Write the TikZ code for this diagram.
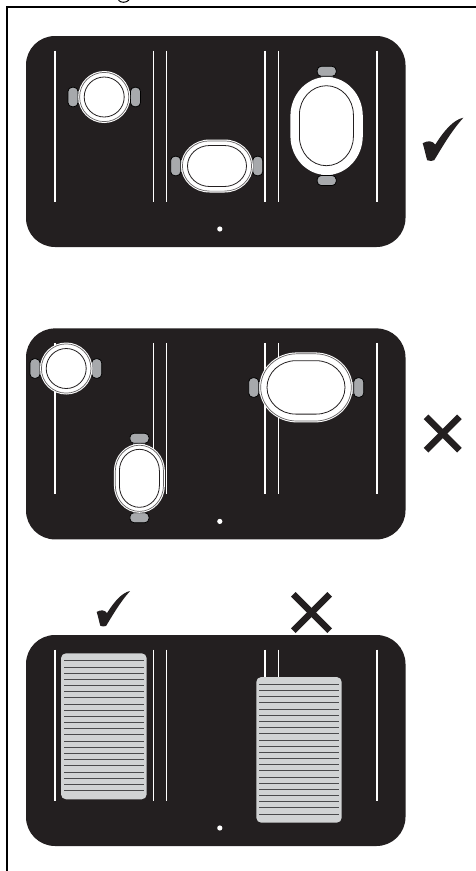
\documentclass[tikz,border=0pt]{standalone}
\definecolor{ink}{HTML}{231F20}
\definecolor{chairgray}{HTML}{A7A9AC}
\definecolor{matgray}{HTML}{D1D3D4}
\definecolor{slat}{HTML}{4A4A4C}
\tikzset{
  panelbox/.style={fill=ink,rounded corners=29pt},
  lane/.style={draw=white,line width=1.2pt},
  chairbox/.style={fill=chairgray,draw=black,line width=0.8pt,rounded corners=4pt},
  chairneck/.style={fill=chairgray},
  tablering/.style={draw=ink!70,line width=0.7pt,fill=white},
  tableedge/.style={draw=ink,line width=0.8pt,fill=white},
  crossbar/.style={draw=ink,line width=6.5pt},
  matbox/.style={fill=matgray,rounded corners=5pt},
  slatline/.style={draw=slat,line width=0.9pt}
}
% panel with its lanes and dot: #1 = top y
\newcommand{\panelat}[1]{%
  \fill[panelbox] (26,#1) rectangle (405.5,{#1+211});
  \foreach \lx in {55,153.7,166.7,265,278.2,377}
    \draw[lane] (\lx,{#1+14.5}) -- (\lx,{#1+166});
  \fill[white] (219.8,{#1+193}) circle (2.6);
}
% chairs left and right of a table: cy, left edge, right edge
\newcommand{\sidechairs}[3]{%
  \fill[chairneck] ({#2+8},{#1-6}) rectangle ({#3-8},{#1+6});
  \draw[chairbox] (#2,{#1-9.7}) rectangle ({#2+10},{#1+9.7});
  \draw[chairbox] ({#3-10},{#1-9.7}) rectangle (#3,{#1+9.7});
}
% chairs above and below a table: cx, top edge, bottom edge
\newcommand{\tipchairs}[3]{%
  \fill[chairneck] ({#1-6},{#2+8}) rectangle ({#1+6},{#3-8});
  \draw[chairbox] ({#1-9.5},#2) rectangle ({#1+9.5},{#2+10});
  \draw[chairbox] ({#1-9.5},{#3-10}) rectangle ({#1+9.5},#3);
}
% oval outline with elliptical ends: draw options, cx, cy, hw, hh
\newcommand{\ovalshape}[5]{%
  \pgfmathsetmacro{\ovhw}{#4}%
  \pgfmathsetmacro{\ovhh}{#5}%
  \pgfmathsetmacro{\ovrx}{min(\ovhw,1.08*min(\ovhw,\ovhh))}%
  \pgfmathsetmacro{\ovry}{min(\ovhh,1.08*min(\ovhw,\ovhh))}%
  \path[#1] ({#2-\ovhw},{#3-\ovhh+\ovry})
    arc[start angle=180,end angle=90,x radius=\ovrx pt,y radius=\ovry pt]
    -- ({#2+\ovhw-\ovrx},{#3-\ovhh})
    arc[start angle=90,end angle=0,x radius=\ovrx pt,y radius=\ovry pt]
    -- ({#2+\ovhw},{#3+\ovhh-\ovry})
    arc[start angle=0,end angle=-90,x radius=\ovrx pt,y radius=\ovry pt]
    -- ({#2-\ovhw+\ovrx},{#3+\ovhh})
    arc[start angle=-90,end angle=-180,x radius=\ovrx pt,y radius=\ovry pt]
    -- cycle;
}
% ringed table: cx, cy, outer hw, outer hh, inner hw, inner hh
\newcommand{\ringtable}[6]{%
  \ovalshape{fill=white}{#1}{#2}{#3}{#4}%
  \ovalshape{tablering}{#1}{#2}{#3-1.4}{#4-1.4}%
  \ovalshape{tableedge}{#1}{#2}{#5}{#6}%
}
% check mark: x, y, scale
\newcommand{\checkat}[3]{%
  \fill[ink,shift={(#1,#2)},scale=#3]
    (40.7,0) .. controls (31,2) and (22,12) .. (12.5,27)
    .. controls (10,23) and (5,22.5) .. (0,25.5)
    .. controls (2,32) and (3,38) .. (4.5,42.5)
    .. controls (7,43.5) and (9.5,43.5) .. (11.5,42.5)
    .. controls (18,32) and (28,14) .. (40.7,0) -- cycle;
}
% cross: cx, cy, half diagonal extent
\newcommand{\crossat}[3]{%
  \draw[crossbar] ({#1-#3},{#2-#3}) -- ({#1+#3},{#2+#3});
  \draw[crossbar] ({#1-#3},{#2+#3}) -- ({#1+#3},{#2-#3});
}
% mattress: left, top, right, bottom, first slat y
\newcommand{\mattress}[5]{%
  \fill[matbox] (#1,#2) rectangle (#3,#4);
  \foreach \k in {0,...,21}
    \draw[slatline] ({#1+3},{#5+\k*6.175}) -- ({#3-3},{#5+\k*6.175});
}
\begin{document}
\begin{tikzpicture}[x=1pt,y=-1pt]
\useasboundingbox (0,0) rectangle (476,871);
\fill[white] (0,0) rectangle (476,871);
% frame
\draw[black,line width=2pt] (6.9,871) -- (6.9,6.9) -- (476,6.9);
\draw[black,line width=1pt] (118.5,0.3) .. controls (121,3) and (126,3) .. (129,0);
% panel 1
\panelat{36}
\sidechairs{97}{68}{140.5}
\ringtable{104.2}{97}{26}{26}{20}{20}
\sidechairs{166}{170.7}{262.7}
\ringtable{217}{166}{36}{26.5}{29.5}{20.5}
\tipchairs{326.7}{66.3}{185.5}
\ovalshape{fill=white}{326.6}{126}{36.2}{49}
\ovalshape{tableedge}{326.4}{125.7}{27}{40}
\checkat{422.7}{117.7}{1}
% panel 2
\panelat{328.4}
\sidechairs{368.5}{30}{101.7}
\ringtable{66.2}{368.5}{26.2}{26}{20}{20}
\tipchairs{139.4}{433.3}{522.7}
\ringtable{139.4}{478.3}{25.5}{34.5}{20}{29}
\sidechairs{387.5}{248.7}{363.7}
\ringtable{306}{387.4}{46.7}{35}{39}{26.7}
\crossat{442.7}{433.5}{16.7}
% panel 3
\panelat{635}
\mattress{61}{653.3}{146.7}{799.3}{660.8}
\mattress{256.3}{677}{341.7}{822.7}{684.4}
\checkat{96.7}{591}{0.82}
\crossat{311.5}{612.5}{18.2}
\end{tikzpicture}
\end{document}
